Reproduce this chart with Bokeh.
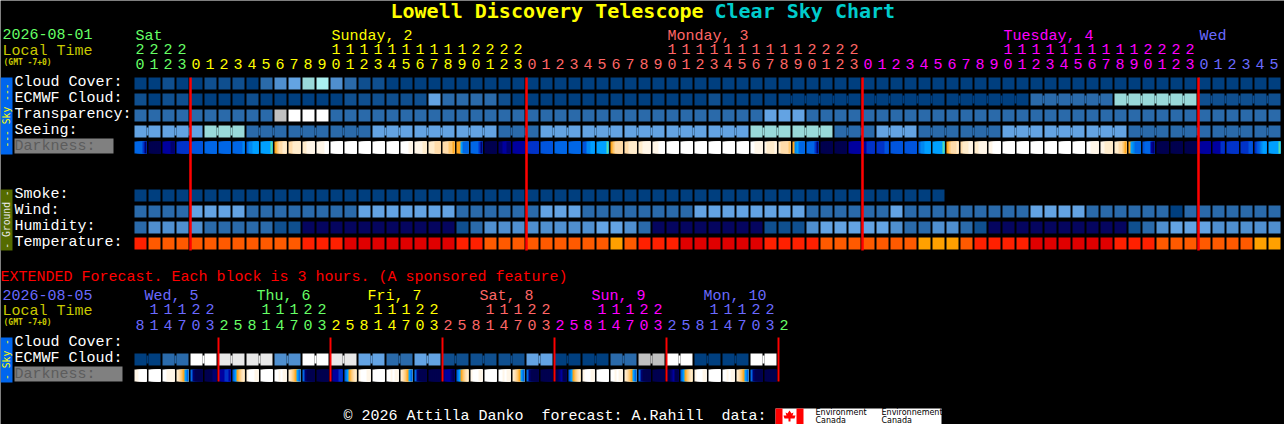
from bokeh.plotting import figure
from bokeh.models import Range1d
from bokeh.core.properties import value
from bokeh.embed import file_html
from bokeh.resources import INLINE

# ---------- data ----------
title_a = "Lowell Discovery Telescope"
title_b = "Clear Sky Chart"
row_labels = ["Cloud Cover:", "ECMWF Cloud:", "Transparency:", "Seeing:"]
ground_labels = ["Smoke:", "Wind:", "Humidity:", "Temperature:"]
hour_units = [0,1,2,3] + list(range(0,10))*2 + [0,1,2,3] + list(range(0,10))*2 + [0,1,2,3] + list(range(0,10))*2 + [0,1,2,3] + [0,1,2,3,4,5]
hour_tens  = [2,2,2,2] + [None]*10 + [1]*10 + [2,2,2,2] + [None]*10 + [1]*10 + [2,2,2,2] + [None]*10 + [1]*10 + [2,2,2,2] + [None]*6
hour_color_days = [(0,4,"sat"),(4,28,"sun"),(28,52,"mon"),(52,76,"tue"),(76,82,"wed")]
day_names = [("Sat",135,"sat"),("Sunday, 2",331,"sun"),("Monday, 3",667,"mon"),("Tuesday, 4",1003,"tue"),("Wed",1199,"wed")]

cloud = [0,0,1,0,0,1,1,1,0,2,3,4,5,6,3,2,1,1,0,0,0] + [0]*61
ecmwf = [1,0,1,1,0,0,0,0,1,0,0,0,0,0,0,1,1,1,1,1,1,4,2,2,2,2,1] + [0]*14 + [1,0,0,0,0] + [0]*18 + [2]*6 + [5]*6 + [1]*6
ecmwf_groups = [1]*46 + [6]*6
transparency = [2]*10 + [7,9,9,9] + [2]*31 + [4,4,4] + [2]*34
seeing = [4,4] + [4]*3 + [5]*3 + [2]*9 + [4]*6 + [4]*3 + [2]*3 + [4]*15 + [5]*6 + [2]*3 + [4]*3 + [2]*6 + [4]*9 + [2]*11
seeing_groups = [2] + [3]*26 + [2]
smoke = [0]*58
wind = [2]*4 + [4]*4 + [2]*8 + [4]*7 + [2]*6 + [4]*3 + [2]*8 + [4]*8 + [2]*6 + [4] + [2]*9 + [4]*4 + [2]*6 + [0] + [2]*7
humidity = [2,3,3,3,3,2,2,2,2,2,1,1] + [10]*11 + [1,2,3,3,3,3,3,3,3,3,4,4,3,2] + [10]*8 + [1,1,1,3,4,4,4,4,4,3,2,2,3,3,2,1] + [10]*10 + [1,2,3,4,4,4,3,3,3,3,3]
temperature = [1] + [0]*11 + [1]*3 + [2]*8 + [1]*2 + [0]*9 + [3,0] + [1]*3 + [2]*6 + [1]*4 + [0]*7 + [3]*3 + [0] + [1]*4 + [2]*6 + [1]*3 + [0]*7 + [3]*2

darkness = ["eeeebd","nnnnnn","mmmmdd","bbbbbb","cccccc","eeeeee","eeeeee","eeeeef","effggg","gggggt",
            "opqqrr","qqrrrr","rrssss","ssssww","wwwwww","wwwwww","wwwwww","wwwwww","wwwwww","wwwwss",
            "ssssrr","rrrqqq","qqqppo","oogeee","eeeebd","nnnnnn","ddmmdd","mmmmmm",
            "bbbbbb","cccccc","eeeeee","eeeeee","ccffgg","gggggt","opqqqq","qqrrrr","rrssss","ssswww",
            "wwwwww","wwwwww","wwwwww","wwwwww","wwwwww","wwwwww","wwssss","srrrrs","rqqqqp","ofgeee",
            "eeeebd","nnnnnn","nnnnnn","mmmmmm",
            "mmbbbb","bbbbcc","cccccc","cccccc","effggg","gggggt","opqqqr","qrrrss","rrssss","sswwww",
            "wwwwww","wwwwww","wwwwww","wwwwww","wwwwww","wwwwww","wwssss","ssrrrr","rrqqpo","ogfeee",
            "ceeemd","nnnnnn","nnnnnn","nnnnnn","mmmmmm","mmmmbb","bbbbbb","bbbbcc","bcefgg","gggggt"]

ext_units = [8,1,4,7,0,3] + [2,5,8,1,4,7,0,3]*5 + [2]
ext_colors = ["wed"]*6 + ["sat"]*8 + ["sun"]*8 + ["mon"]*8 + ["tue"]*8 + ["wed"]*8 + ["sat"]
ext_tens = [None,1,1,1,2,2] + [None,None,None,1,1,1,2,2]*5 + [None]
ext_days = [("Wed, 5",144,"wed"),("Thu, 6",256,"sat"),("Fri, 7",367,"sun"),("Sat, 8",479,"mon"),("Sun, 9",591,"tue"),("Mon, 10",703,"wed")]
ext_ecmwf = [0,0,2,2,9,9,8,8,8,8,3,3,9,9,8,8,4,4,2,2,4,4,1,1,1,1,1,1,4,4,0,0,0,0,2,2,7,7,9,9,0,0,0,0,9,9]
ext_groups = [2]*23
ext_darkness = ["sswwww","wwwwww","wwssss","rqpoge","ednnnn","nnnndd",
                "mmmbbm","egopqr","swwwss","wwwwww","wwswss","rqpoge","ednnnn","nnnnnn",
                "nmmmbb","egopqr","swwwss","wwwwww","wwswss","rqpoge","ednnnn","nnnnnn",
                "dmmmdn","egopqr","swwwss","wwwwww","wwswss","rqpoge","ednnnn","nnnnnn",
                "nndmnn","egopqr","swwwss","wwwwww","wwswss","rqpoge","ednnnn","nnnnnn",
                "nndmnn","egopqr","swwwss","wwwwww","wwswss","rqpoge","ednnnn","nnnnnn"]

# ---------- styles ----------
SKY = ["#003f7f","#0f4f8f","#2a6aaa","#4f8fcf","#63a3e3","#99d9d9","#aaf0f0","#c0c0c0","#e8e8e8","#ffffff","#05055f"]
TEMP = ["#ff5a00","#ff2000","#e00000","#ffa000"]
DARK = dict(n="#00004f",d="#000070",m="#00009f",b="#0033c8",c="#0055dd",e="#0066e6",f="#0088f0",g="#00a0ff",
            t="#55ddaa",o="#ffa820",p="#ffc870",q="#ffdcaa",r="#ffeccc",s="#fff6e8",w="#ffffff")
DAY = dict(sat="#66ff66",sun="#ffff00",mon="#ff6666",tue="#ff00ff",wed="#6a6aff")
MONO = "Liberation Mono"
PITCH, CELL = 14, 12
X0 = 134
SIZE = 15

def px(x):
    return (x - X0) / PITCH

p = figure(width=1284, height=424, output_backend="svg", toolbar_location=None,
           x_range=Range1d(px(0), px(1284)), y_range=Range1d(424, 0),
           x_axis_location=None, y_axis_location=None, min_border=0,
           background_fill_color="black", border_fill_color="black", outline_line_color=None)
p.grid.visible = False

def txt(x, y, s, color, size=SIZE, bold=False, align="left", angle=0, font=MONO):
    p.text([px(x)], [y], text=[s], text_color=color, text_font=value(font),
           text_font_size=value(f"{size}px"), text_font_style="bold" if bold else "normal",
           text_align=align, text_baseline="middle", angle=angle)

def cells(vals, top, colors):
    xs = list(range(len(vals)))
    p.quad(left=xs, right=[x + CELL / PITCH for x in xs], top=[top]*len(xs), bottom=[top + CELL]*len(xs),
           fill_color=[colors[v] for v in vals], line_color=None)

def joins(vals, groups, top, colors):
    i, l, c = 0, [], []
    for g in groups:
        for k in range(i, i + g - 1):
            l.append(k + CELL / PITCH)
            c.append(colors[vals[k]])
        i += g
    p.quad(left=l, right=[x + (PITCH - CELL) / PITCH for x in l], top=[top + 2]*len(l), bottom=[top + CELL - 2]*len(l),
           fill_color=c, line_color=None)

def shade(strips, top):
    # every slice runs to the end of its cell, so the next slice paints over it and no seam shows
    l, r, c = [], [], []
    for i, s in enumerate(strips):
        w = (CELL / PITCH) / len(s)
        for k, ch in enumerate(s):
            l.append(i + k * w); r.append(i + CELL / PITCH); c.append(DARK[ch])
    p.quad(left=l, right=r, top=[top]*len(l), bottom=[top + CELL]*len(l), fill_color=c, line_color=None)

def digits(xs, y, vals, colors):
    p.text([x + 0.39 for x in xs], [y]*len(xs), text=[str(v) for v in vals], text_color=colors,
           text_font=value(MONO), text_font_size=value(f"{SIZE}px"), text_align="center", text_baseline="middle")

# ---------- title and header ----------
txt(390, 10.5, title_a, "#ffff00", 20, True, font="DejaVu Sans Mono")
txt(714, 10.5, title_b, "#00cccc", 20, True, font="DejaVu Sans Mono")
txt(2, 33.5, "2026-08-01", DAY["sat"])
txt(2, 51, "Local Time", "#c8c800")
txt(3, 62, "(GMT -7+0)", "#c8c800", 8, True, font="DejaVu Sans Mono")
for name, x, d in day_names:
    txt(x, 36, name, DAY[d])
for a, b, d in hour_color_days:
    xs = list(range(a, b))
    digits(xs, 63.5, [hour_units[x] for x in xs], [DAY[d]]*len(xs))
    t = [x for x in xs if hour_tens[x] is not None]
    digits(t, 48.5, [hour_tens[x] for x in t], [DAY[d]]*len(t))

# ---------- main sky block ----------
p.quad(left=[px(0)], right=[px(12)], top=[77], bottom=[154], fill_color="#0066ee", line_color=None)
txt(6, 115, "--- Sky ---", "#ffff00", 9.7, angle=1.5708, align="center", font="DejaVu Sans Mono")
for y, s in zip([81.5, 97.5, 113.5, 129.5], row_labels):
    txt(14, y, s, "white")
p.quad(left=[px(14)], right=[px(113)], top=[138], bottom=[153], fill_color="#808080", line_color=None)
txt(14, 145.5, "Darkness:", "#5c5c5c")

cells(cloud, 77, SKY)
cells(ecmwf, 93, SKY); joins(ecmwf, ecmwf_groups, 93, SKY)
cells(transparency, 109, SKY)
cells(seeing, 125, SKY); joins(seeing, seeing_groups, 125, SKY)
shade(darkness, 141)

# ---------- ground block ----------
p.quad(left=[px(0)], right=[px(12)], top=[189], bottom=[250], fill_color="#556b00", line_color=None)
txt(6, 219, "- Ground -", "#e8e8e8", 9.7, angle=1.5708, align="center", font="DejaVu Sans Mono")
for y, s in zip([193.5, 209.5, 225.5, 241.5], ground_labels):
    txt(14, y, s, "white")
cells(smoke, 189, SKY)
cells(wind, 205, SKY)
cells(humidity, 221, SKY)
cells(temperature, 237, TEMP)

p.quad(left=[x - 0.09 for x in (4, 28, 52, 76)], right=[x + 0.09 for x in (4, 28, 52, 76)],
       top=[77]*4, bottom=[250]*4, fill_color="#ff0000", line_color=None)

# ---------- extended forecast ----------
txt(0, 276.5, "EXTENDED Forecast. Each block is 3 hours. (A sponsored feature)", "#ff0000")
txt(2, 294, "2026-08-05", DAY["wed"])
txt(2, 311, "Local Time", "#c8c800")
txt(3, 322, "(GMT -7+0)", "#c8c800", 8, True, font="DejaVu Sans Mono")
for name, x, d in ext_days:
    txt(x, 296, name, DAY[d])
xs = list(range(len(ext_units)))
digits(xs, 324, ext_units, [DAY[c] for c in ext_colors])
t = [x for x in xs if ext_tens[x] is not None]
digits(t, 308.5, [ext_tens[x] for x in t], [DAY[ext_colors[x]] for x in t])

p.quad(left=[px(0)], right=[px(12)], top=[337], bottom=[382], fill_color="#0066ee", line_color=None)
txt(6, 359, "- Sky -", "#ffff00", 9.7, angle=1.5708, align="center", font="DejaVu Sans Mono")
txt(14, 342, "Cloud Cover:", "white")
txt(14, 357.5, "ECMWF Cloud:", "white")
p.quad(left=[px(14)], right=[px(122)], top=[366], bottom=[381], fill_color="#808080", line_color=None)
txt(14, 373.5, "Darkness:", "#5c5c5c")
cells(ext_ecmwf, 353, SKY); joins(ext_ecmwf, ext_groups, 353, SKY)
shade(ext_darkness, 369)
ext_lines = [6, 14, 22, 30, 38, 46]
p.quad(left=[x - 0.07 for x in ext_lines], right=[x + 0.07 for x in ext_lines],
       top=[337]*6, bottom=[381]*6, fill_color="#ff0000", line_color=None)

# ---------- footer ----------
txt(343, 416, "\u00a9 2026 Attilla Danko\u00a0 forecast: A.Rahill\u00a0 data:", "white")
p.quad(left=[px(775)], right=[px(941)], top=[408], bottom=[424], fill_color="white", line_color=None)
p.quad(left=[px(775), px(796)], right=[px(782), px(803)], top=[408]*2, bottom=[424]*2, fill_color="#ff0000", line_color=None)
leaf_x = [789, 791, 793, 792, 795, 794, 790, 790, 788, 788, 784, 783, 786, 785, 787]
leaf_y = [410, 413, 412, 415, 415, 418, 418, 421, 421, 418, 418, 415, 415, 412, 413]
p.patch([px(x) for x in leaf_x], leaf_y, fill_color="#ff0000", line_color=None)
for x, y, s in [(815, 412, "Environment"), (815, 419.5, "Canada"), (881, 412, "Environnement"), (881, 419.5, "Canada")]:
    txt(x, y, s, "black", 8, font="DejaVu Sans")

html = file_html(p, INLINE)
html = html.replace("<body>", '<body style="margin:0;background:#000;overflow:hidden">', 1)
open("out.html", "w").write(html)
